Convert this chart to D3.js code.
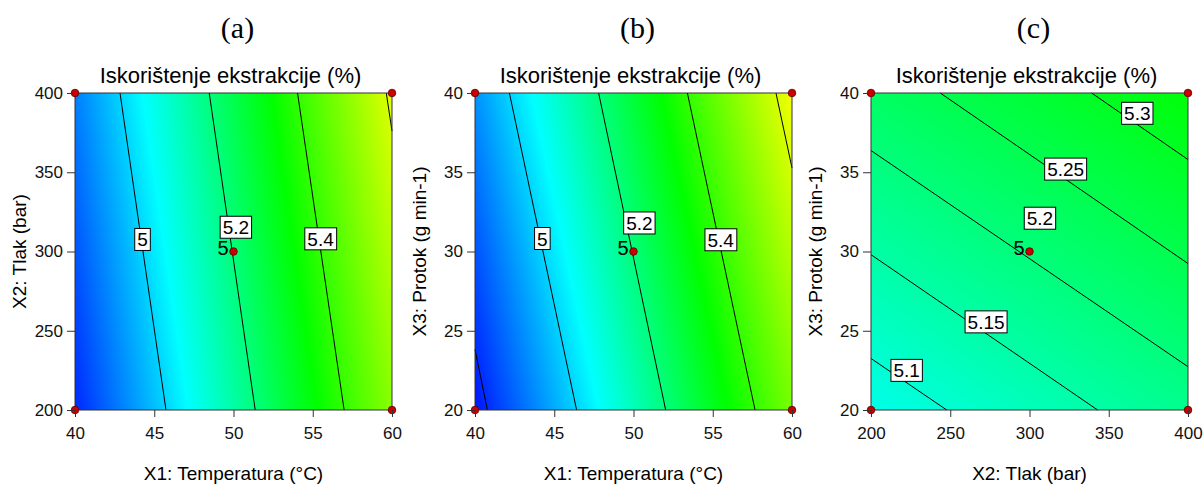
<!DOCTYPE html>
<html>
<head>
<meta charset="utf-8">
<script src="https://cdn.jsdelivr.net/npm/d3@7"></script>
<style>
  body { margin: 0; background: #fff; }
  svg { display: block; font-family: Arial, "Liberation Sans", sans-serif; }
  .tick text { font-size: 17px; fill: #111; }
  .tick line { stroke: #333; }
  .domain { display: none; }
</style>
</head>
<body>
<div id="chart"></div>
<script>
// ---- data ----

var panelLetters = ["(a)", "(b)", "(c)"];
var chartTitle = "Iskorištenje ekstrakcije (%)";
var xTitles = ["X1: Temperatura (°C)", "X1: Temperatura (°C)", "X2: Tlak (bar)"];
var yTitles = ["X2: Tlak (bar)", "X3: Protok (g min-1)", "X3: Protok (g min-1)"];

var tempTicks = [40, 45, 50, 55, 60];
var pressTicks = [200, 250, 300, 350, 400];
var flowTicks = [20, 25, 30, 35, 40];

// (a) temperature vs pressure
var levelsA = [5.0, 5.2, 5.4, 5.6];
var contoursA = [
  [[42.84, 400], [45.74, 200]],
  [[48.47, 400], [51.37, 200]],
  [[54.04, 400], [56.98, 200]],
  [[59.64, 400], [60.0, 376]]
];
var labelsA = [["5", 44.26, 307.6], ["5.2", 50.15, 315.3], ["5.4", 55.49, 308.0]];
var designA = [[40, 200], [40, 400], [60, 200], [60, 400], [50, 300]];

// (b) temperature vs flow
var levelsB = [4.8, 5.0, 5.2, 5.4, 5.6];
var contoursB = [
  [[40.0, 23.82], [40.78, 20]],
  [[42.17, 40], [46.41, 20]],
  [[47.80, 40], [52.03, 20]],
  [[53.40, 40], [57.67, 20]],
  [[58.99, 40], [60.0, 35.27]]
];
var labelsB = [["5", 44.25, 30.82], ["5.2", 50.37, 31.8], ["5.4", 55.5, 30.74]];
var designB = [[40, 20], [40, 40], [60, 20], [60, 40], [50, 30]];

// (c) pressure vs flow
var levelsC = [5.1, 5.15, 5.2, 5.25, 5.3];
var contoursC = [
  [[200, 23.25], [247.8, 20]],
  [[200, 29.8], [343.0, 20]],
  [[200, 36.37], [400, 22.73]],
  [[243.7, 40], [400, 29.24]],
  [[339.2, 40], [400, 35.8]]
];
var labelsC = [["5.1", 222.5, 22.5], ["5.15", 272.6, 25.56], ["5.2", 306.6, 32.1], ["5.25", 322.8, 35.2], ["5.3", 368.0, 38.72]];
var designC = [[200, 20], [200, 40], [400, 20], [400, 40], [300, 30]];

var centreRuns = 5;

// colour map (Design-Expert style blue -> cyan -> green -> yellow -> red)
var colourValues = [4.75, 5.05, 5.34, 5.65, 5.95];
var colourStops = ["#0000ff", "#00ffff", "#00ff00", "#ffff00", "#ff0000"];

// ---- layout ----
var width = 1204, height = 484;
var plotSize = 317;
var plotTop = 93;
var plotLefts = [75, 475, 871];

var colour = d3.scaleLinear()
  .domain(colourValues)
  .range(colourStops)
  .clamp(true);

var svg = d3.select("#chart").append("svg")
  .attr("width", width)
  .attr("height", height);

var panels = [
  {xd: [40, 60], yd: [200, 400], xt: tempTicks, yt: pressTicks, levels: levelsA, contours: contoursA, labels: labelsA, design: designA},
  {xd: [40, 60], yd: [20, 40], xt: tempTicks, yt: flowTicks, levels: levelsB, contours: contoursB, labels: labelsB, design: designB},
  {xd: [200, 400], yd: [20, 40], xt: pressTicks, yt: flowTicks, levels: levelsC, contours: contoursC, labels: labelsC, design: designC}
];

// fill the plot with the colour of the surface, row by row
// value along a row comes from where each contour line crosses that row
function paintSurface(g, x, y, levels, contours) {
  var canvas = document.createElement("canvas");
  canvas.width = plotSize;
  canvas.height = plotSize;
  var ctx = canvas.getContext("2d");
  var img = ctx.createImageData(plotSize, plotSize);

  var segs = contours.map(function(c) {
    return c.map(function(p) { return [x(p[0]), y(p[1])]; });
  });

  for (var py = 0; py < plotSize; py++) {
    var yy = py + 0.5;
    var crossings = segs.map(function(s) {
      return s[0][0] + (s[1][0] - s[0][0]) * (yy - s[0][1]) / (s[1][1] - s[0][1]);
    });
    var valueAt = d3.scaleLinear().domain(crossings).range(levels);
    for (var px = 0; px < plotSize; px++) {
      var c = d3.rgb(colour(valueAt(px + 0.5)));
      var k = (py * plotSize + px) * 4;
      img.data[k] = c.r;
      img.data[k + 1] = c.g;
      img.data[k + 2] = c.b;
      img.data[k + 3] = 255;
    }
  }
  ctx.putImageData(img, 0, 0);

  g.append("image")
    .attr("href", canvas.toDataURL())
    .attr("width", plotSize)
    .attr("height", plotSize);
}

panels.forEach(function(p, i) {
  var left = plotLefts[i];
  var cx = left + plotSize / 2;

  var x = d3.scaleLinear().domain(p.xd).range([0, plotSize]);
  var y = d3.scaleLinear().domain(p.yd).range([plotSize, 0]);

  // panel letter
  svg.append("text")
    .attr("x", cx + 4)
    .attr("y", 38)
    .attr("text-anchor", "middle")
    .style("font-family", "'Liberation Serif', 'Times New Roman', serif")
    .style("font-size", "30px")
    .text(panelLetters[i]);

  // title
  svg.append("text")
    .attr("x", cx - 3)
    .attr("y", 83)
    .attr("text-anchor", "middle")
    .style("font-size", "22px")
    .text(chartTitle);

  var g = svg.append("g")
    .attr("transform", "translate(" + left + "," + plotTop + ")");

  paintSurface(g, x, y, p.levels, p.contours);

  // contour lines
  g.append("g").selectAll("line")
    .data(p.contours)
    .enter().append("line")
    .attr("x1", function(d) { return x(d[0][0]); })
    .attr("y1", function(d) { return y(d[0][1]); })
    .attr("x2", function(d) { return x(d[1][0]); })
    .attr("y2", function(d) { return y(d[1][1]); })
    .attr("stroke", "#000")
    .attr("stroke-width", 1);

  // frame
  g.append("rect")
    .attr("width", plotSize)
    .attr("height", plotSize)
    .attr("fill", "none")
    .attr("stroke", "#333")
    .attr("stroke-width", 1);

  // contour labels, white boxes
  var lab = g.append("g").selectAll("g")
    .data(p.labels)
    .enter().append("g")
    .attr("transform", function(d) { return "translate(" + x(d[1]) + "," + y(d[2]) + ")"; });
  lab.append("rect");
  lab.append("text")
    .attr("text-anchor", "middle")
    .attr("y", 7)
    .style("font-size", "19px")
    .text(function(d) { return d[0]; });
  lab.each(function() {
    var t = d3.select(this).select("text").node().getBBox();
    d3.select(this).select("rect")
      .attr("x", t.x - 2.5)
      .attr("y", -11)
      .attr("width", t.width + 5)
      .attr("height", 22)
      .attr("fill", "#fff")
      .attr("stroke", "#000")
      .attr("stroke-width", 1);
  });

  // design points
  g.append("g").selectAll("circle")
    .data(p.design)
    .enter().append("circle")
    .attr("cx", function(d) { return x(d[0]); })
    .attr("cy", function(d) { return y(d[1]); })
    .attr("r", 3.8)
    .attr("fill", "#cc0000")
    .attr("stroke", "#500")
    .attr("stroke-width", 0.8);

  // replicate count at the centre point
  var centre = p.design[p.design.length - 1];
  g.append("text")
    .attr("x", x(centre[0]) - 5)
    .attr("y", y(centre[1]) + 3)
    .attr("text-anchor", "end")
    .style("font-size", "20px")
    .text(centreRuns);

  // axes
  g.append("g")
    .attr("transform", "translate(0," + plotSize + ")")
    .call(d3.axisBottom(x).tickValues(p.xt).tickSize(7).tickPadding(10).tickSizeOuter(0));
  g.append("g")
    .call(d3.axisLeft(y).tickValues(p.yt).tickSize(8).tickPadding(4).tickSizeOuter(0));

  // axis titles
  svg.append("text")
    .attr("x", cx)
    .attr("y", 480)
    .attr("text-anchor", "middle")
    .style("font-size", "19px")
    .text(xTitles[i]);

  svg.append("text")
    .attr("transform", "translate(" + (left - 49) + "," + (plotTop + plotSize / 2) + ") rotate(-90)")
    .attr("text-anchor", "middle")
    .style("font-size", "19px")
    .text(yTitles[i]);
});
</script>
</body>
</html>
